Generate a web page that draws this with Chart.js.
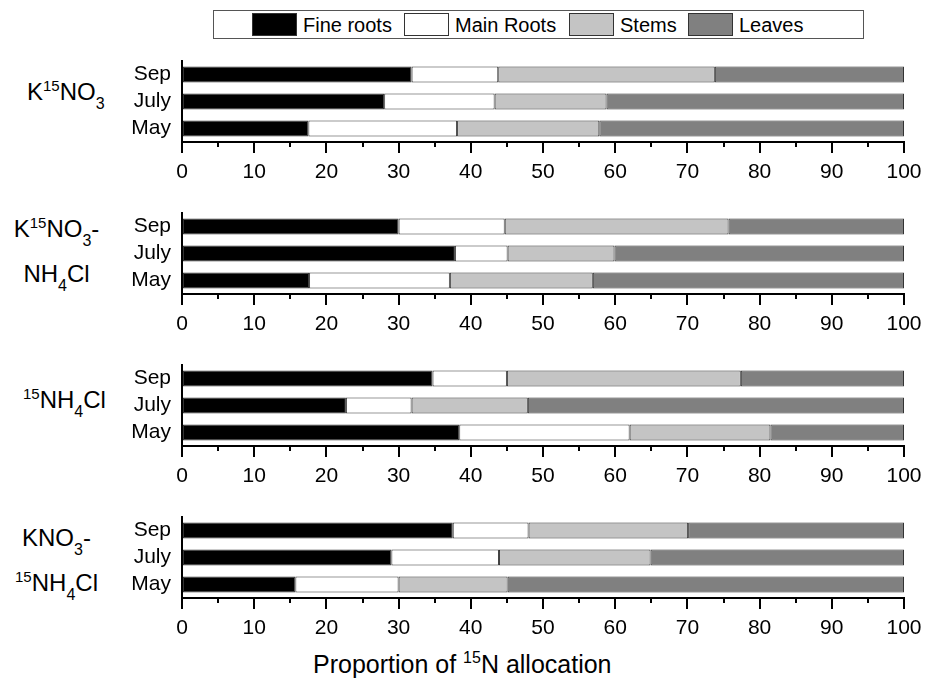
<!DOCTYPE html>
<html lang="en">
<head>
  <meta charset="UTF-8" />
  <title>15N allocation</title>
  <script src="https://cdn.jsdelivr.net/npm/chart.js"></script>
  <style>
    body { margin: 0; background: #fff; font-family: 'Liberation Sans', Arial, sans-serif; color: #000; }
    #page { position: relative; width: 935px; height: 688px; overflow: hidden; }
    .panel { position: absolute; left: 0; }
    .panel canvas { display: block; }
    .legend { position: absolute; left: 213px; top: 10px; width: 649px; height: 27px; border: 1px solid #555; }
    .swatch { position: absolute; top: 2px; width: 43px; height: 21px; border: 1px solid #333; }
    .ltext { position: absolute; top: 2px; font-size: 20px; line-height: 24px; white-space: nowrap; }
    .group { position: absolute; font-size: 24px; line-height: 42px; text-align: center; white-space: nowrap; }
    .group sup { font-size: 15px; position: relative; top: -9px; vertical-align: baseline; }
    .group sub { font-size: 16px; position: relative; top: 9px; vertical-align: baseline; }
    .xtitle { position: absolute; left: 313px; top: 650px; font-size: 25px; white-space: nowrap; }
    .xtitle sup { font-size: 16px; position: relative; top: -10px; vertical-align: baseline; }
  </style>
</head>
<body>
<div id="page">
  <div class="legend" id="legend"></div>
  <div class="xtitle">Proportion of <sup>15</sup>N allocation</div>
</div>

<script>
  // categories and series (percent of 15N), one row per treatment, order Sep / July / May
  const months = ['Sep', 'July', 'May'];
  const seriesNames = ['Fine roots', 'Main Roots', 'Stems', 'Leaves'];
  const seriesColors = ['#000000', '#ffffff', '#c4c4c4', '#808080'];

  const treatments = [
    'K<sup>15</sup>NO<sub>3</sub>',
    'K<sup>15</sup>NO<sub>3</sub>-<br>NH<sub>4</sub>Cl',
    '<sup>15</sup>NH<sub>4</sub>Cl',
    'KNO<sub>3</sub>-<br><sup>15</sup>NH<sub>4</sub>Cl'
  ];

  const fineRoots = [[31.8, 28.0, 17.5], [30.0, 37.8, 17.6], [34.7, 22.7, 38.4], [37.5, 29.0, 15.7]];
  const mainRoots = [[12.0, 15.3, 20.6], [14.7, 7.3, 19.5], [10.3, 9.1, 23.6], [10.5, 14.9, 14.3]];
  const stems     = [[30.0, 15.5, 19.7], [31.0, 14.8, 19.8], [32.4, 16.1, 19.5], [22.1, 21.0, 15.1]];
  const leaves    = [[26.2, 41.2, 42.2], [24.3, 40.1, 43.1], [22.6, 52.1, 18.5], [29.9, 35.1, 54.9]];

  const minorTicks = [5, 15, 25, 35, 45, 55, 65, 75, 85, 95];

  const FONT = "'Liberation Sans', Arial, sans-serif";
  const page = document.getElementById('page');

  // legend
  const legend = document.getElementById('legend');
  const swatchLeft = [38, 190, 355, 474];
  const textLeft = [89, 241, 406, 525];
  seriesNames.forEach((name, i) => {
    const sw = document.createElement('div');
    sw.className = 'swatch';
    sw.style.left = swatchLeft[i] + 'px';
    sw.style.background = seriesColors[i];
    legend.appendChild(sw);
    const t = document.createElement('div');
    t.className = 'ltext';
    t.style.left = textLeft[i] + 'px';
    t.textContent = name;
    legend.appendChild(t);
  });

  // treatment labels
  const groupPos = [
    { left: 27, top: 82, center: false },
    { left: 0, top: 219, center: true },
    { left: 23, top: 390, center: false },
    { left: 0, top: 528, center: true }
  ];
  treatments.forEach((html, i) => {
    const d = document.createElement('div');
    d.className = 'group';
    d.innerHTML = html;
    d.style.top = (groupPos[i].top - 11) + 'px';
    if (groupPos[i].center) {
      d.style.left = '0px';
      d.style.width = '113px';
    } else {
      d.style.left = groupPos[i].left + 'px';
      d.style.textAlign = 'left';
    }
    page.appendChild(d);
  });

  const minorTickPlugin = {
    id: 'minorTicks',
    afterDraw(chart) {
      const x = chart.scales.x;
      const ctx = chart.ctx;
      const y0 = chart.chartArea.bottom;
      ctx.save();
      ctx.strokeStyle = '#000';
      ctx.lineWidth = 2;
      minorTicks.forEach(v => {
        const px = Math.round(x.getPixelForValue(v));
        ctx.beginPath();
        ctx.moveTo(px, y0);
        ctx.lineTo(px, y0 + 5);
        ctx.stroke();
      });
      ctx.restore();
    }
  };

  const series = [fineRoots, mainRoots, stems, leaves];

  for (let p = 0; p < 4; p++) {
    const wrap = document.createElement('div');
    wrap.className = 'panel';
    wrap.style.top = (53 + 152 * p) + 'px';
    const canvas = document.createElement('canvas');
    canvas.width = 935;
    canvas.height = 129;
    wrap.appendChild(canvas);
    page.appendChild(wrap);

    new Chart(canvas.getContext('2d'), {
      type: 'bar',
      data: {
        labels: months,
        datasets: seriesNames.map((name, i) => ({
          label: name,
          data: series[i][p],
          backgroundColor: seriesColors[i],
          borderColor: '#333',
          borderWidth: 1,
          borderSkipped: false,
          barPercentage: 0.6,
          categoryPercentage: 1.0
        }))
      },
      options: {
        indexAxis: 'y',
        responsive: false,
        animation: false,
        layout: { padding: { top: 8, right: 31, left: 0, bottom: 0 } },
        plugins: { legend: { display: false }, tooltip: { enabled: false } },
        scales: {
          x: {
            stacked: true,
            min: 0,
            max: 100,
            ticks: { stepSize: 10, color: '#000', padding: 7, maxRotation: 0, font: { family: FONT, size: 21 } },
            grid: { drawOnChartArea: false, drawTicks: true, tickLength: 11, lineWidth: 2, color: '#000' },
            border: { display: true, color: '#000', width: 2 },
            afterFit(scale) { scale.height = 40; scale.paddingLeft = 0; scale.paddingRight = 0; }
          },
          y: {
            stacked: true,
            ticks: { autoSkip: false, color: '#000', padding: 11, font: { family: FONT, size: 21 } },
            grid: { display: false, drawTicks: false },
            border: { display: true, color: '#000', width: 2 },
            afterFit(scale) { scale.width = 182; scale.paddingTop = 0; scale.paddingBottom = 0; }
          }
        }
      },
      plugins: [minorTickPlugin]
    });
  }
</script>
</body>
</html>
